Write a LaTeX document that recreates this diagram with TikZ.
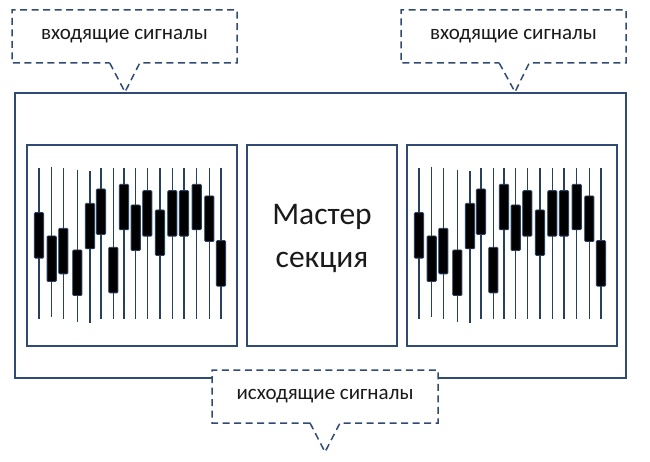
\documentclass[tikz,border=0pt]{standalone}
\usepackage{fontspec}
\setmainfont{Carlito}
\usetikzlibrary{shapes.callouts}
\definecolor{boxblue}{HTML}{2F4B73}
\definecolor{lineblue}{HTML}{27405F}
\definecolor{txt}{HTML}{1A1A1A}
\tikzset{
  outerbox/.style={draw=boxblue, line width=2pt, inner sep=0pt},
  panelbox/.style={draw=boxblue, line width=1.6pt, inner sep=0pt, minimum height=201pt},
  sigcallout/.style={rectangle callout, draw=boxblue, line width=1.5pt, fill=white,
    dash pattern=on 7pt off 4.5pt, callout pointer width=30pt,
    minimum width=225pt, minimum height=53pt, inner sep=0pt, text=txt,
    font=\fontsize{21}{25}\selectfont},
  mastertext/.style={font=\fontsize{31.5}{38}\selectfont, anchor=base, inner sep=0pt, text=txt},
  faderline/.style={draw=lineblue, line width=1.4pt},
  knob/.style={fill=black, draw=lineblue, line width=0.9pt, rounded corners=1pt}
}
\begin{document}
\begin{tikzpicture}[x=1pt,y=-1pt]
\useasboundingbox (0,0) rectangle (650,462);
% outer frame
\node[outerbox, minimum width=611pt, minimum height=285pt] (outer) at (320.5,235.5) {};
% panels
\node[panelbox, minimum width=210pt] (left) at (132,245.5) {};
\node[panelbox, minimum width=150pt] (master) at (322,245.5) {};
\node[panelbox, minimum width=210pt] (right) at (512,245.5) {};
\node[mastertext] (mt1) at (322,225) {Мастер};
\node[mastertext] (mt2) at (322,268) {секция};
% faders
\foreach \off in {0,380}{
  \foreach \x/\lt/\lb/\kt in {39/168.3/319.3/212.7, 51.7/166.7/317.3/236, 63.3/168.3/319.3/228.3,
      77.3/170/321.7/250, 90/170.7/322.7/203.3, 101/168.3/319.3/189, 113.3/168.3/319.3/247.3,
      124/168.3/319.3/184.3, 135.7/168.3/319.3/205, 147.3/168.3/319.3/190.7, 160/168.3/319.3/210,
      172.3/168.3/319.3/190.7, 184/168.3/319.3/190.7, 196.7/168.3/319.3/184.3, 209.3/168.3/319.3/196,
      221/168.3/319.3/240.7}{
    \draw[faderline] (\x+\off,\lt) -- (\x+\off,\lb);
    \draw[knob] (\x+\off-4.6,\kt) rectangle (\x+\off+4.6,\kt+45.5);
  }
}
% callouts
\coordinate (tipL) at (125,92);
\coordinate (tipR) at (515,92);
\coordinate (tipB) at (325,452);
\node[sigcallout, callout absolute pointer={(tipL)}] (inL) at (124.5,36.5) {входящие сигналы};
\node[sigcallout, callout absolute pointer={(tipR)}] (inR) at (513.5,36.5) {входящие сигналы};
\node[sigcallout, minimum width=226pt, callout absolute pointer={(tipB)}] (outB) at (325,396.5) {исходящие сигналы};
\end{tikzpicture}
\end{document}
